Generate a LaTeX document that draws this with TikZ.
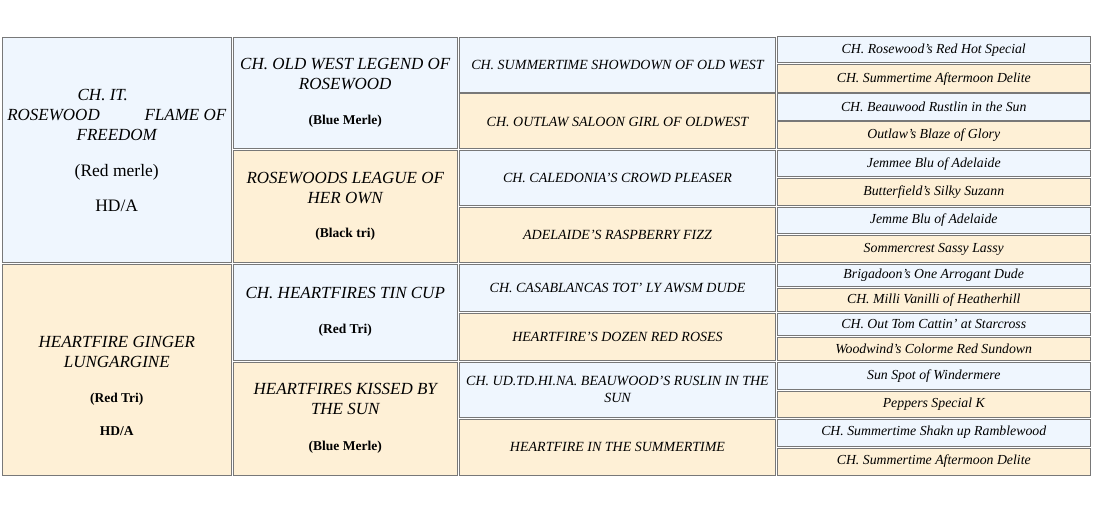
\documentclass[tikz,border=0pt]{standalone}
\usepackage{fontspec}
\setmainfont{Liberation Serif}
\usepackage{tikz}
\definecolor{pSire}{RGB}{239,246,254}
\definecolor{pDam}{RGB}{254,240,214}
\definecolor{pLine}{RGB}{120,120,120}
\newcommand{\coatcolor}[1]{{\upshape\bfseries\fontsize{13.5}{15}\selectfont #1}}

\begin{document}
\begin{tikzpicture}[
  x=1pt, y=-1pt,
  cell/.style={draw=pLine, line width=1pt, inner sep=0pt, align=center},
  sire/.style={cell, fill=pSire},
  dam/.style={cell, fill=pDam},
  gen1/.style={minimum width=228.5pt, font=\fontsize{17}{20}\selectfont\itshape},
  gen2/.style={minimum width=224.5pt, font=\fontsize{17}{20}\selectfont\itshape},
  gen3/.style={minimum width=316pt, font=\fontsize{14}{17}\selectfont\itshape},
  gen4/.style={minimum width=313.5pt, font=\fontsize{13.8}{15}\selectfont\itshape},
]
  \useasboundingbox (0,0) rectangle (1094,510);

  % parents
  \node[sire, gen1, minimum height=225pt] (s) at (116.75,150)
    {CH. IT.\hspace*{28pt}\\ \makebox[219pt][s]{ROSEWOOD\hfill FLAME OF}\\ FREEDOM\\[16pt]
     {\upshape\fontsize{17.5}{20}\selectfont (Red merle)}\\[15pt]
     {\upshape\fontsize{17.5}{20}\selectfont HD/A}};
  \node[dam, gen1, minimum height=210.5pt] (d) at (116.75,369.75)
    {\rule{0pt}{43.5pt}HEARTFIRE GINGER\\ LUNGARGINE\\[15pt] \coatcolor{(Red Tri)}\\[13pt]
     \coatcolor{HD/A}};

  % grandparents
  \node[sire, gen2, minimum height=111.5pt] (ss) at (345.25,93.25)
    {CH. OLD WEST LEGEND OF\\ ROSEWOOD\\[15pt] \coatcolor{(Blue Merle)}};
  \node[dam, gen2, minimum height=112pt] (sd) at (345.25,206.5)
    {ROSEWOODS LEAGUE OF\\ HER OWN\\[14pt] \coatcolor{(Black tri)}};
  \node[sire, gen2, minimum height=95.5pt] (ds) at (345.25,312.25)
    {CH. HEARTFIRES TIN CUP\\[15pt] \coatcolor{(Red Tri)}};
  \node[dam, gen2, minimum height=113pt] (dd) at (345.25,418.5)
    {HEARTFIRES KISSED BY\\ THE SUN\\[16pt] \coatcolor{(Blue Merle)}};

  % great-grandparents
  \node[sire, gen3, minimum height=55pt] (sss) at (617.5,65) {CH. SUMMERTIME SHOWDOWN OF OLD WEST};
  \node[dam, gen3, minimum height=55pt] (ssd) at (617.5,121.5) {CH. OUTLAW SALOON GIRL OF OLDWEST};
  \node[sire, gen3, minimum height=55.2pt] (sds) at (617.5,178.1) {CH. CALEDONIA'S CROWD PLEASER};
  \node[dam, gen3, minimum height=55.2pt] (sdd) at (617.5,234.9) {ADELAIDE'S RASPBERRY FIZZ};
  \node[sire, gen3, minimum height=47.2pt] (dss) at (617.5,288.1) {CH. CASABLANCAS TOT' LY AWSM DUDE};
  \node[dam, gen3, minimum height=46.7pt] (dsd) at (617.5,336.65) {HEARTFIRE'S DOZEN RED ROSES};
  \node[sire, gen3, minimum height=55.3pt] (dds) at (617.5,389.65)
    {CH. UD.TD.HI.NA. BEAUWOOD'S RUSLIN IN THE\\ SUN};
  \node[dam, gen3, minimum height=55.7pt] (ddd) at (617.5,447.15) {HEARTFIRE IN THE SUMMERTIME};

  % great-great-grandparents
  \node[sire, gen4, minimum height=26pt] (ssss) at (933.75,50) {CH. Rosewood's Red Hot Special};
  \node[dam, gen4, minimum height=27.5pt] (sssd) at (933.75,78.75) {CH. Summertime Aftermoon Delite};
  \node[sire, gen4, minimum height=26.5pt] (ssds) at (933.75,107.25) {CH. Beauwood Rustlin in the Sun};
  \node[dam, gen4, minimum height=27pt] (ssdd) at (933.75,135.5) {Outlaw's Blaze of Glory};
  \node[sire, gen4, minimum height=26.5pt] (sdss) at (933.75,163.75) {Jemmee Blu of Adelaide};
  \node[dam, gen4, minimum height=27pt] (sdsd) at (933.75,192.2) {Butterfield's Silky Suzann};
  \node[sire, gen4, minimum height=26.2pt] (sdds) at (933.75,220.4) {Jemme Blu of Adelaide};
  \node[dam, gen4, minimum height=27pt] (sddd) at (933.75,249) {Sommercrest Sassy Lassy};
  \node[sire, gen4, minimum height=22.2pt] (dsss) at (933.75,275.6) {Brigadoon's One Arrogant Dude};
  \node[dam, gen4, minimum height=23pt] (dssd) at (933.75,300.2) {CH. Milli Vanilli of Heatherhill};
  \node[sire, gen4, minimum height=22pt] (dsds) at (933.75,324.3) {CH. Out Tom Cattin' at Starcross};
  \node[dam, gen4, minimum height=22.7pt] (dsdd) at (933.75,348.65) {Woodwind's Colorme Red Sundown};
  \node[sire, gen4, minimum height=27.3pt] (ddss) at (933.75,375.65) {Sun Spot of Windermere};
  \node[dam, gen4, minimum height=26pt] (ddsd) at (933.75,404.3) {Peppers Special K};
  \node[sire, gen4, minimum height=26.7pt] (ddds) at (933.75,432.65) {CH. Summertime Shakn up Ramblewood};
  \node[dam, gen4, minimum height=27pt] (dddd) at (933.75,461.5) {CH. Summertime Aftermoon Delite};
\end{tikzpicture}
\end{document}
